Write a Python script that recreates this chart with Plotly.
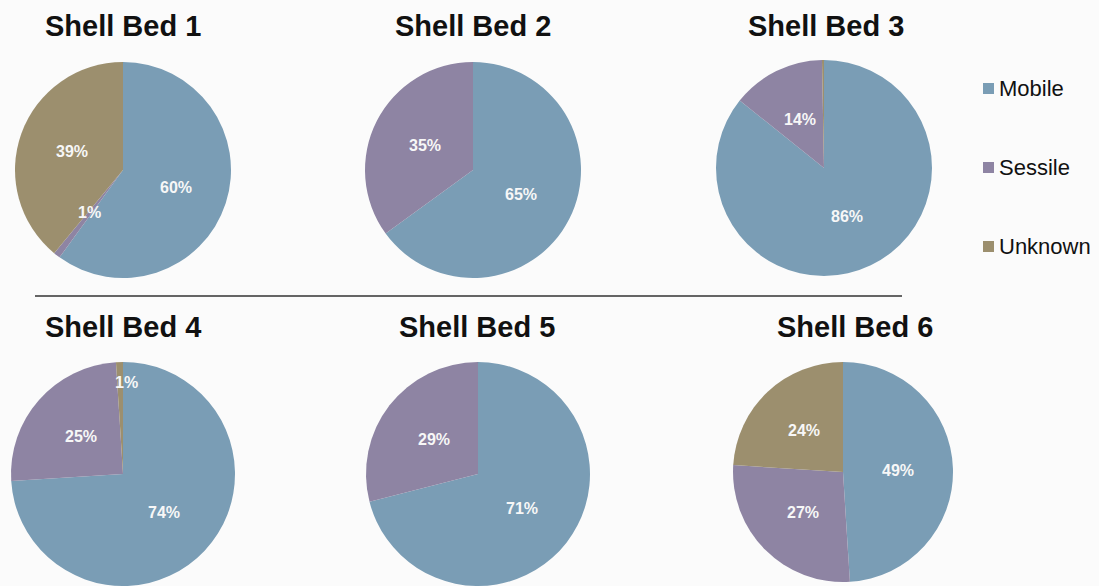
import math
import plotly.graph_objects as go

W, H = 1099, 586

categories = ["Mobile", "Sessile", "Unknown"]
colors = ["#7a9db5", "#8e84a3", "#9c8f6e"]

beds = ["Shell Bed 1", "Shell Bed 2", "Shell Bed 3",
        "Shell Bed 4", "Shell Bed 5", "Shell Bed 6"]

mobile = [60, 65, 86, 74, 71, 49]
sessile = [1, 35, 14, 25, 29, 27]
unknown = [39, 0, 0.3, 1, 0, 24]

# printed slice labels (blank where no label is shown)
labels_mobile = ["60%", "65%", "86%", "74%", "71%", "49%"]
labels_sessile = ["1%", "35%", "14%", "25%", "29%", "27%"]
labels_unknown = ["39%", "", "", "1%", "", "24%"]

# pie layout in pixels: centre x, centre y, radius
pie_geom = [(123, 170, 108), (473, 170, 108), (824, 168, 108),
            (123, 474, 112), (478, 474, 112), (843, 472, 110)]
title_pos = [(123, 26), (473, 26), (826, 26),
             (123, 327), (477, 327), (855, 327)]
# radial position of each label as a fraction of the radius
label_r = [[0.52, 0.5, 0.5], [0.5, 0.5, 0.5], [0.5, 0.5, 0.5],
           [0.5, 0.5, 0.82], [0.5, 0.5, 0.5], [0.5, 0.52, 0.52]]

fig = go.Figure()
annotations = []

for i, bed in enumerate(beds):
    cx, cy, r = pie_geom[i]
    vals = [mobile[i], sessile[i], unknown[i]]
    texts = [labels_mobile[i], labels_sessile[i], labels_unknown[i]]
    fig.add_trace(go.Pie(
        labels=categories, values=vals, sort=False,
        direction="clockwise", rotation=0,
        marker=dict(colors=colors, line=dict(width=0)),
        textinfo="none", hoverinfo="label+percent",
        showlegend=False,
        domain=dict(x=[(cx - r) / W, (cx + r) / W],
                    y=[1 - (cy + r) / H, 1 - (cy - r) / H]),
    ))
    total = sum(vals)
    cum = 0.0
    for j, v in enumerate(vals):
        mid = (cum + v / 2) / total
        cum += v
        if not texts[j]:
            continue
        ang = 2 * math.pi * mid
        rr = label_r[i][j] * r
        px = cx + rr * math.sin(ang)
        py = cy - rr * math.cos(ang)
        xshift = 6 if (i == 3 and j == 2) else 0
        annotations.append(dict(
            x=px / W, y=1 - py / H, xref="paper", yref="paper",
            xanchor="center", yanchor="middle",
            text="<b>%s</b>" % texts[j], showarrow=False, xshift=xshift,
            font=dict(family="Liberation Sans, Arial", size=16, color="#f7f7f7"),
        ))
    tx, ty = title_pos[i]
    annotations.append(dict(
        x=tx / W, y=1 - ty / H, xref="paper", yref="paper",
        xanchor="center", yanchor="middle",
        text="<b>%s</b>" % bed, showarrow=False,
        font=dict(family="Liberation Sans, Arial", size=29, color="#111111"),
    ))

# legend drawn as squares and labels
shapes = []
legend_y = [88.5, 167.5, 246.5]
for k, cat in enumerate(categories):
    y = legend_y[k]
    shapes.append(dict(type="rect", xref="paper", yref="paper",
                       x0=983 / W, x1=994 / W,
                       y0=1 - (y + 5.5) / H, y1=1 - (y - 5.5) / H,
                       fillcolor=colors[k], line=dict(width=0)))
    annotations.append(dict(
        x=997 / W, y=1 - y / H, xref="paper", yref="paper",
        xanchor="left", yanchor="middle", text=cat, showarrow=False,
        font=dict(family="Liberation Sans, Arial", size=22, color="#111111"),
    ))

# separator between the two rows
shapes.append(dict(type="line", xref="paper", yref="paper",
                   x0=35 / W, x1=902 / W, y0=1 - 296 / H, y1=1 - 296 / H,
                   line=dict(color="#333333", width=1.5)))

fig.update_layout(
    width=W, height=H,
    margin=dict(l=0, r=0, t=0, b=0),
    paper_bgcolor="#fbfbfb", plot_bgcolor="#fbfbfb",
    annotations=annotations, shapes=shapes,
)

fig.write_html("out.html")
